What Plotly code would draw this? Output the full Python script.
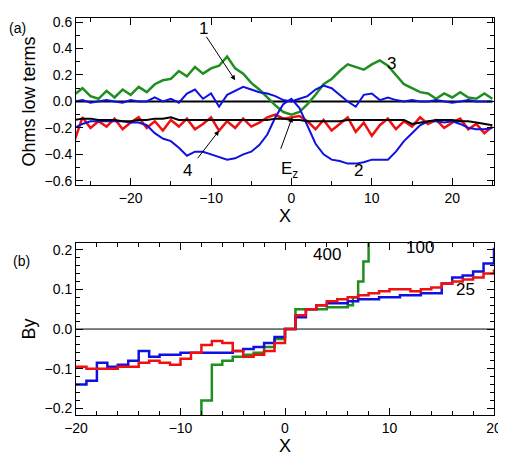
import plotly.graph_objects as go

# panel (a)
xa = list(range(-27, 26))
green3 = [0.05, 0.10, 0.04, 0.02, 0.08, 0.03, 0.09, 0.05, 0.11, 0.07, 0.13, 0.16, 0.17, 0.23, 0.19, 0.26, 0.21, 0.25, 0.27, 0.34,
          0.25, 0.21, 0.14, 0.09, 0.03, -0.03, -0.08, -0.10, -0.08, -0.02, 0.05, 0.13, 0.17, 0.23, 0.28, 0.26, 0.24, 0.28, 0.31, 0.27,
          0.20, 0.13, 0.10, 0.07, 0.06, 0.02, 0.06, 0.03, 0.07, 0.03, 0.02, 0.06, 0.02]
blue1 = [0.00, 0.01, -0.01, 0.00, 0.01, 0.00, -0.01, 0.01, 0.00, 0.00, 0.03, 0.00, 0.02, -0.01, 0.06, 0.09, 0.02, 0.06, -0.04, 0.05,
         0.08, 0.11, 0.09, 0.07, 0.06, 0.04, 0.01, 0.00, 0.02, 0.04, 0.09, 0.12, 0.10, 0.05, 0.00, -0.04, 0.05, 0.06, 0.01, 0.03,
         0.01, 0.00, 0.01, 0.00, 0.00, 0.01, 0.00, -0.01, 0.00, 0.01, 0.00, 0.00, 0.00]
blue2 = [-0.20, -0.17, -0.15, -0.15, -0.15, -0.15, -0.15, -0.16, -0.16, -0.18, -0.24, -0.28, -0.30, -0.35, -0.41, -0.38, -0.38, -0.40,
         -0.42, -0.44, -0.43, -0.40, -0.38, -0.33, -0.25, -0.12, -0.02, 0.02, -0.05, -0.18, -0.32, -0.40, -0.44, -0.45, -0.47, -0.47,
         -0.46, -0.44, -0.44, -0.44, -0.38, -0.30, -0.24, -0.18, -0.15, -0.15, -0.16, -0.15, -0.17, -0.20, -0.21, -0.21, -0.20]
red4 = [-0.30, -0.12, -0.20, -0.15, -0.19, -0.13, -0.21, -0.16, -0.12, -0.20, -0.15, -0.22, -0.14, -0.19, -0.13, -0.21, -0.17, -0.12,
        -0.22, -0.15, -0.20, -0.13, -0.19, -0.16, -0.12, -0.10, -0.13, -0.12, -0.11, -0.15, -0.21, -0.14, -0.22, -0.17, -0.12, -0.23,
        -0.16, -0.26, -0.18, -0.13, -0.21, -0.15, -0.19, -0.12, -0.17, -0.14, -0.20, -0.16, -0.13, -0.21, -0.17, -0.24, -0.19]
black_ez = [-0.14, -0.13, -0.13, -0.14, -0.14, -0.14, -0.15, -0.15, -0.14, -0.14, -0.13, -0.13, -0.12, -0.14, -0.14, -0.14, -0.14,
            -0.14, -0.14, -0.14, -0.14, -0.14, -0.14, -0.14, -0.14, -0.13, -0.13, -0.14, -0.14, -0.15, -0.15, -0.15, -0.15, -0.15,
            -0.14, -0.14, -0.14, -0.14, -0.14, -0.14, -0.14, -0.14, -0.17, -0.16, -0.15, -0.14, -0.14, -0.14, -0.15, -0.15, -0.16,
            -0.17, -0.18]

# panel (b)
xb = list(range(-20, 21))
by100 = [-0.14, -0.13, -0.085, -0.095, -0.09, -0.08, -0.055, -0.07, -0.065, -0.065, -0.06, -0.06, -0.06, -0.06, -0.06, -0.055,
         -0.05, -0.045, -0.035, -0.02, 0.0, 0.03, 0.05, 0.06, 0.065, 0.065, 0.07, 0.075, 0.075, 0.08, 0.08, 0.085, 0.085, 0.09,
         0.09, 0.115, 0.13, 0.135, 0.145, 0.165, 0.205]
by25 = [-0.095, -0.10, -0.10, -0.10, -0.095, -0.095, -0.085, -0.08, -0.085, -0.09, -0.075, -0.06, -0.04, -0.03, -0.035, -0.055,
        -0.07, -0.065, -0.055, -0.035, 0.0, 0.035, 0.05, 0.06, 0.07, 0.075, 0.08, 0.085, 0.09, 0.095, 0.10, 0.10, 0.095, 0.10,
        0.105, 0.115, 0.12, 0.125, 0.13, 0.14, 0.15]
x400 = [-8.5, -8, -7, -6, -5, -4, -3, -2, -1, 0, 1, 2, 3, 4, 5, 6, 6.5, 7, 7.5, 8]
by400 = [-0.22, -0.18, -0.09, -0.08, -0.07, -0.065, -0.06, -0.045, -0.025, 0.0, 0.05, 0.05, 0.05, 0.055, 0.055, 0.06, 0.08,
         0.12, 0.17, 0.22]

GREEN = "#1f8f1f"
BLUE = "#1010e0"
RED = "#f01010"

fig = go.Figure()
fig.add_trace(go.Scatter(x=xa, y=[0] * len(xa), mode="lines", line=dict(color="black", width=2), xaxis="x", yaxis="y"))
fig.add_trace(go.Scatter(x=xa, y=green3, mode="lines", line=dict(color=GREEN, width=2.5), xaxis="x", yaxis="y"))
fig.add_trace(go.Scatter(x=xa, y=blue1, mode="lines", line=dict(color=BLUE, width=2), xaxis="x", yaxis="y"))
fig.add_trace(go.Scatter(x=xa, y=red4, mode="lines", line=dict(color=RED, width=2.5), xaxis="x", yaxis="y"))
fig.add_trace(go.Scatter(x=xa, y=blue2, mode="lines", line=dict(color=BLUE, width=2), xaxis="x", yaxis="y"))
fig.add_trace(go.Scatter(x=xa, y=black_ez, mode="lines", line=dict(color="black", width=2), xaxis="x", yaxis="y"))

fig.add_trace(go.Scatter(x=xb, y=[0] * len(xb), mode="lines", line=dict(color="black", width=1), xaxis="x2", yaxis="y2"))
fig.add_trace(go.Scatter(x=x400, y=by400, mode="lines", line=dict(color=GREEN, width=2.5, shape="hv"), xaxis="x2", yaxis="y2"))
fig.add_trace(go.Scatter(x=xb, y=by100, mode="lines", line=dict(color=BLUE, width=2.5, shape="hv"), xaxis="x2", yaxis="y2"))
fig.add_trace(go.Scatter(x=xb, y=by25, mode="lines", line=dict(color=RED, width=2.5, shape="hv"), xaxis="x2", yaxis="y2"))

axis_style = dict(showline=True, linecolor="black", linewidth=1, mirror="ticks", ticks="inside", ticklen=7,
                  tickcolor="black", showgrid=False, zeroline=False, automargin=False,
                  minor=dict(ticks="inside", ticklen=4, tickcolor="black", nticks=5),
                  tickfont=dict(size=14, color="black"))

fig.update_layout(
    width=506, height=458, showlegend=False,
    paper_bgcolor="white", plot_bgcolor="white",
    margin=dict(l=68, r=20, t=0, b=0),
    font=dict(family="Liberation Sans, Arial", size=15, color="black"),
    xaxis=dict(axis_style, domain=[0, 1], range=[-26.8, 25.2], anchor="y", tickvals=[-20, -10, 0, 10, 20],
               title=dict(text="X", standoff=0)),
    yaxis=dict(axis_style, domain=[0.614, 0.978], range=[-0.63, 0.63], anchor="x",
               tickvals=[-0.6, -0.4, -0.2, 0, 0.2, 0.4, 0.6], tickformat=".1f",
               title=dict(text="Ohms low terms", standoff=4)),
    xaxis2=dict(axis_style, domain=[0, 1], range=[-20, 20], anchor="y2", tickvals=[-20, -10, 0, 10, 20],
                title=dict(text="X", standoff=0)),
    yaxis2=dict(axis_style, domain=[0.111, 0.487], range=[-0.217, 0.217], anchor="x2",
                tickvals=[-0.2, -0.1, 0, 0.1, 0.2], tickformat=".1f", title=dict(text="By", standoff=4)),
)

arrow = dict(showarrow=True, arrowhead=2, arrowsize=1, arrowwidth=1, arrowcolor="black", axref="x", ayref="y")
fig.add_annotation(x=-7.0, y=0.16, ax=-10.7, ay=0.50, text="", **arrow)
fig.add_annotation(x=-9.0, y=-0.22, ax=-11.8, ay=-0.44, text="", **arrow)
fig.add_annotation(x=0.1, y=-0.12, ax=-1.4, ay=-0.37, text="", **arrow)
for tx, ty, t in [(-10.9, 0.55, "1"), (12.5, 0.29, "3"), (8.4, -0.52, "2"), (-12.9, -0.52, "4"), (-0.3, -0.52, "E<sub>z</sub>")]:
    fig.add_annotation(x=tx, y=ty, text=t, showarrow=False, font=dict(size=17), xref="x", yref="y")
for tx, ty, t in [(4.0, 0.187, "400"), (12.9, 0.205, "100"), (17.3, 0.1, "25")]:
    fig.add_annotation(x=tx, y=ty, text=t, showarrow=False, font=dict(size=17), xref="x2", yref="y2")
fig.add_annotation(x=-0.165, y=0.978, xref="paper", yref="paper", text="(a)", showarrow=False, font=dict(size=14),
                   xanchor="left", yanchor="top")
fig.add_annotation(x=-0.155, y=0.47, xref="paper", yref="paper", text="(b)", showarrow=False, font=dict(size=14),
                   xanchor="left", yanchor="top")

fig.write_html("out.html")
